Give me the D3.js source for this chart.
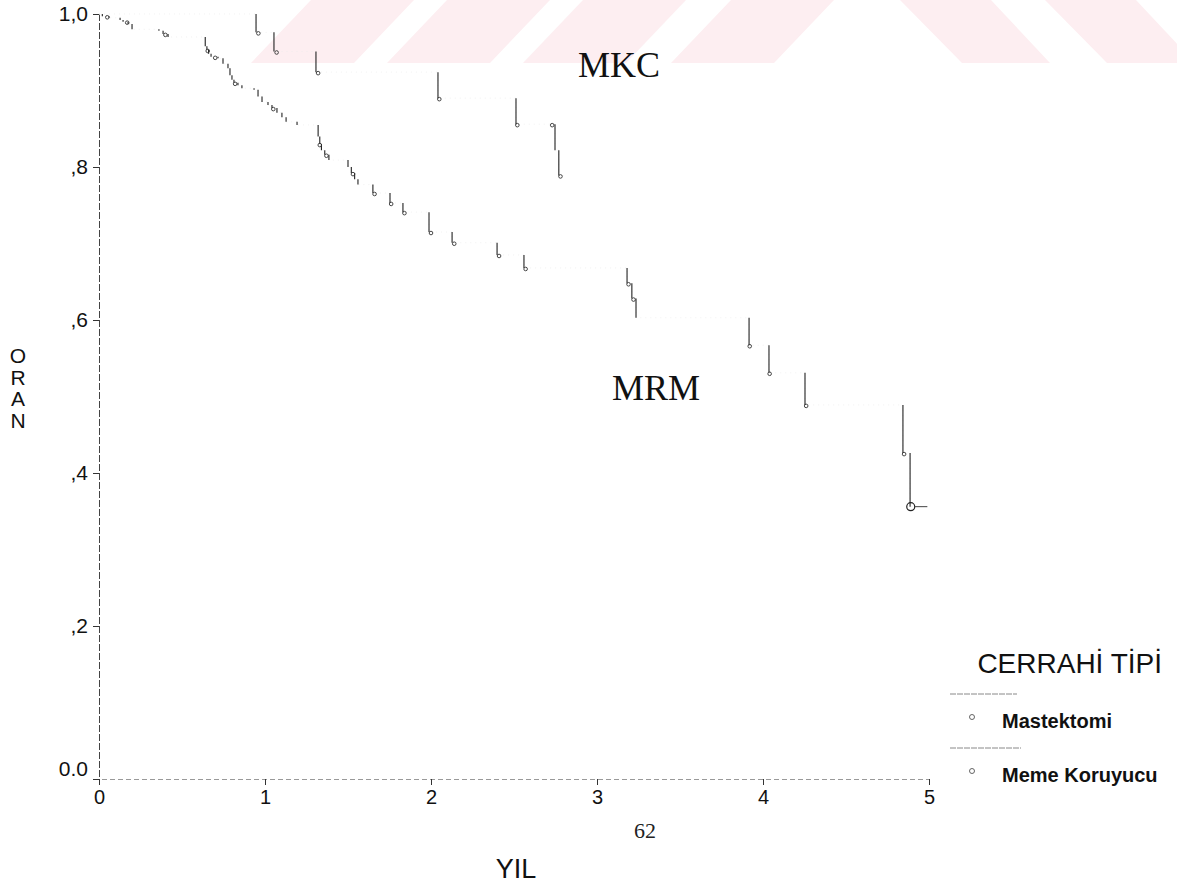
<!DOCTYPE html>
<html>
<head>
<meta charset="utf-8">
<script src="https://cdn.jsdelivr.net/npm/d3@7"></script>
<style>
  html, body { margin: 0; padding: 0; background: #fff; }
  svg { display: block; }
</style>
</head>
<body>
<svg id="chart" width="1177" height="883"></svg>
<script>
// Kaplan–Meier survival by surgery type (years on x, proportion on y)

// Mastektomi (MRM): event times (years) and survival after each event
const mrmTimes = [0.02, 0.06, 0.127, 0.145, 0.175, 0.199, 0.361, 0.386, 0.416,
  0.640, 0.650, 0.660, 0.675, 0.717, 0.747, 0.777, 0.789, 0.801, 0.813, 0.837, 0.861,
  0.934, 0.958, 0.982, 1.018, 1.042, 1.072, 1.102, 1.127, 1.193,
  1.320, 1.330, 1.340, 1.360, 1.385, 1.500, 1.520, 1.540, 1.560,
  1.650, 1.753, 1.831, 1.988, 2.127, 2.398, 2.560,
  3.181, 3.210, 3.235, 3.916, 4.036, 4.253, 4.843, 4.886];
const mrmSurv = [0.997, 0.995, 0.992, 0.990, 0.987, 0.980, 0.978, 0.974, 0.970,
  0.958, 0.953, 0.948, 0.944, 0.942, 0.935, 0.929, 0.920, 0.914, 0.910, 0.907, 0.903,
  0.901, 0.892, 0.885, 0.881, 0.877, 0.871, 0.865, 0.859, 0.855,
  0.840, 0.830, 0.822, 0.816, 0.809, 0.800, 0.792, 0.784, 0.777,
  0.766, 0.753, 0.741, 0.715, 0.701, 0.685, 0.668,
  0.648, 0.628, 0.603, 0.567, 0.531, 0.489, 0.426, 0.356];
const mrmEnd = 4.99;
const mrmCensorTimes = [0.05, 0.17, 0.40, 0.655, 0.70, 0.82, 1.05, 1.33, 1.37, 1.53,
  1.66, 1.76, 1.84, 2.00, 2.14, 2.41, 2.57, 3.19, 3.22, 3.92, 4.04, 4.26, 4.85];
const mrmFinalCensor = 4.89;

// Meme Koruyucu (MKC)
const mkcTimes = [0.946, 1.054, 1.307, 2.042, 2.512, 2.747, 2.770];
const mkcSurv = [0.976, 0.951, 0.924, 0.890, 0.856, 0.822, 0.789];
const mkcEnd = 2.80;
const mkcCensorTimes = [0.96, 1.07, 1.32, 2.05, 2.52, 2.73, 2.78];

// Axis ticks
const yTickValues = [0, 0.2, 0.4, 0.6, 0.8, 1.0];
const yTickLabels = ["0.0", ",2", ",4", ",6", ",8", "1,0"];
const xTickValues = [0, 1, 2, 3, 4, 5];
const xTickLabels = ["0", "1", "2", "3", "4", "5"];

const legendTitle = "CERRAHİ TİPİ";
const legendItems = ["Mastektomi", "Meme Koruyucu"];

const svg = d3.select("#chart");

// faint background stripes across the top band
const band = svg.append("g").attr("class", "watermark");
const bandH = 63;
const stripeFill = "#fdeef1";
const slashStarts = [251, 387, 523, 671];
slashStarts.forEach(x0 => {
  band.append("polygon")
    .attr("points", [[x0, bandH], [x0 + 103, bandH], [x0 + 163, 0], [x0 + 60, 0]].map(p => p.join(",")).join(" "))
    .attr("fill", stripeFill);
});
const backStarts = [900, 1045];
backStarts.forEach(x0 => {
  band.append("polygon")
    .attr("points", [[x0, 0], [x0 + 91, 0], [x0 + 150, bandH], [x0 + 62, bandH]].map(p => p.join(",")).join(" "))
    .attr("fill", stripeFill);
});

const x = d3.scaleLinear().domain([0, 5]).range([99, 929]);
const y = d3.scaleLinear().domain([0, 1]).range([779, 14]);
const sans = "Liberation Sans, Arial, sans-serif";
const serif = "Liberation Serif, Times New Roman, serif";

// axes
const yAxis = d3.axisLeft(y).tickValues(yTickValues)
  .tickFormat((d, i) => yTickLabels[i]).tickSize(6).tickPadding(5);
const gy = svg.append("g").attr("transform", `translate(${x(0)},0)`).call(yAxis);
gy.select(".domain").attr("stroke", "#444").attr("stroke-dasharray", "7,2");
gy.selectAll(".tick line").attr("stroke", "#333");
gy.selectAll(".tick text")
  .attr("font-family", sans).attr("font-size", 21).attr("fill", "#111");
gy.selectAll(".tick").filter(d => d === 0).select("text").attr("dy", "-0.15em");

const xAxis = d3.axisBottom(x).tickValues(xTickValues)
  .tickFormat((d, i) => xTickLabels[i]).tickSize(6).tickPadding(5);
const gx = svg.append("g").attr("transform", `translate(0,${y(0)})`).call(xAxis);
gx.select(".domain").attr("stroke", "#999").attr("stroke-dasharray", "5,3");
gx.selectAll(".tick line").attr("stroke", "#333");
gx.selectAll(".tick text")
  .attr("font-family", sans).attr("font-size", 20).attr("fill", "#111");

// survival step curves
function stepPoints(times, surv, tEnd) {
  const pts = [[0, 1]];
  times.forEach((t, i) => pts.push([t, surv[i]]));
  pts.push([tEnd, surv[surv.length - 1]]);
  return pts;
}
function survAt(times, surv, t) {
  let s = 1;
  times.forEach((ti, i) => { if (ti <= t) s = surv[i]; });
  return s;
}
const line = d3.line().x(d => x(d[0])).y(d => y(d[1])).curve(d3.curveStepAfter);

function drawCurve(times, surv, tEnd, censors) {
  const g = svg.append("g");
  g.append("path").datum(stepPoints(times, surv, tEnd))
    .attr("d", line).attr("fill", "none")
    .attr("stroke", "#ececec").attr("stroke-width", 0.7)
    .attr("stroke-dasharray", "1,4");
  g.selectAll("line.drop").data(times).join("line").attr("class", "drop")
    .attr("x1", d => x(d)).attr("x2", d => x(d))
    .attr("y1", (d, i) => y(i === 0 ? 1 : surv[i - 1]))
    .attr("y2", (d, i) => y(surv[i]))
    .attr("stroke", "#222").attr("stroke-width", 1.1);
  g.selectAll("circle.cens").data(censors).join("circle").attr("class", "cens")
    .attr("cx", d => x(d)).attr("cy", d => y(survAt(times, surv, d)) + 1)
    .attr("r", 1.8).attr("fill", "none")
    .attr("stroke", "#333").attr("stroke-width", 0.9);
  return g;
}

drawCurve(mrmTimes, mrmSurv, mrmEnd, mrmCensorTimes);
drawCurve(mkcTimes, mkcSurv, mkcEnd, mkcCensorTimes);

// final censored observation on the MRM curve
svg.append("circle")
  .attr("cx", x(mrmFinalCensor)).attr("cy", y(survAt(mrmTimes, mrmSurv, mrmFinalCensor)))
  .attr("r", 4).attr("fill", "none").attr("stroke", "#222").attr("stroke-width", 1.2);
svg.append("line")
  .attr("x1", x(mrmFinalCensor) + 4).attr("x2", x(mrmEnd))
  .attr("y1", y(mrmSurv[mrmSurv.length - 1])).attr("y2", y(mrmSurv[mrmSurv.length - 1]))
  .attr("stroke", "#444").attr("stroke-width", 1);

// curve labels
svg.append("text").attr("x", 578).attr("y", 77).text("MKC")
  .attr("font-family", serif).attr("font-size", 36).attr("fill", "#111");
svg.append("text").attr("x", 612).attr("y", 400).text("MRM")
  .attr("font-family", serif).attr("font-size", 36).attr("fill", "#111");

// axis titles: stacked vertical letters on the left
const oran = ["O", "R", "A", "N"];
const oranText = svg.append("text")
  .attr("text-anchor", "middle")
  .attr("font-family", sans).attr("font-size", 21).attr("fill", "#111");
oranText.selectAll("tspan").data(oran).join("tspan")
  .attr("x", 18).attr("y", (d, i) => 363 + i * 21.5).text(d => d);
svg.append("text").attr("x", 516).attr("y", 878).attr("text-anchor", "middle").text("YIL")
  .attr("font-family", sans).attr("font-size", 27).attr("fill", "#111");
svg.append("text").attr("x", 645).attr("y", 838).attr("text-anchor", "middle").text("62")
  .attr("font-family", serif).attr("font-size", 22).attr("fill", "#222");

// legend
const lg = svg.append("g");
lg.append("text").attr("x", 1162).attr("y", 673).attr("text-anchor", "end").text(legendTitle)
  .attr("font-family", sans).attr("font-size", 28).attr("fill", "#111");
legendItems.forEach((name, i) => {
  const yy = 694 + i * 54;
  lg.append("line").attr("x1", 950).attr("x2", 1017 + i * 4).attr("y1", yy).attr("y2", yy)
    .attr("stroke", "#888").attr("stroke-width", 1).attr("stroke-dasharray", "6,1");
  lg.append("circle").attr("cx", 972).attr("cy", yy + 23).attr("r", 2.5)
    .attr("fill", "none").attr("stroke", "#555").attr("stroke-width", 0.9);
  lg.append("text").attr("x", 1002).attr("y", yy + 34).text(name)
    .attr("font-family", sans).attr("font-size", 20).attr("font-weight", "bold").attr("fill", "#111");
});
</script>
</body>
</html>
